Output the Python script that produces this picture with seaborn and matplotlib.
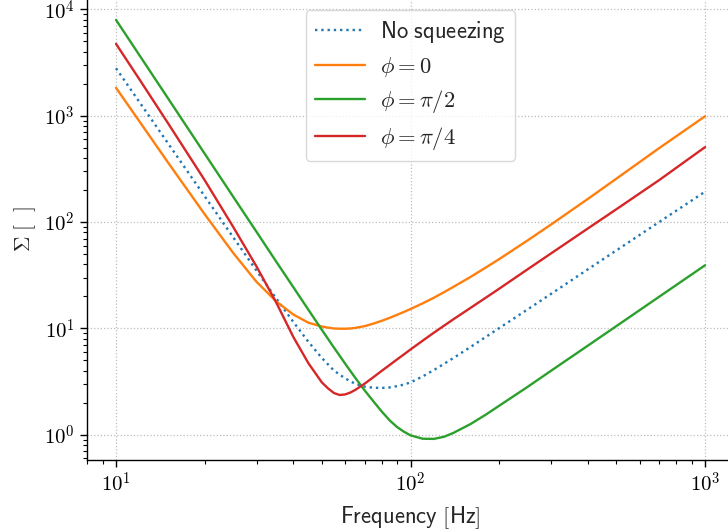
import matplotlib
matplotlib.use("Agg")
import matplotlib.pyplot as plt
from matplotlib.ticker import FuncFormatter, LogLocator
import numpy as np
import pandas as pd
import seaborn as sns

# Frequency grid [Hz] and the noise ratio Sigma for each homodyne angle
freq = [10, 12, 15, 20, 25, 30, 35, 40, 45, 50, 52.5, 55, 57.5, 60, 62.5,
        65, 70, 75, 80, 85, 90, 95, 100, 110, 120, 130, 140, 160, 180, 200,
        250, 300, 400, 500, 700, 1000]

no_squeezing = [2800, 1350, 553, 175, 71.9, 34.9, 19.1, 11.5, 7.47, 5.26,
                4.57, 4.0, 3.67, 3.38, 3.18, 3.0, 2.83, 2.76, 2.75, 2.78,
                2.86, 2.96, 3.1, 3.53, 4.05, 4.64, 5.27, 6.69, 8.29, 10.05,
                15.1, 21.1, 35.9, 54.1, 100.5, 193]
phi_0 = [1833, 888, 365, 118.5, 51.2, 27.4, 17.9, 13.5, 11.3, 10.4, 10.15,
         9.97, 9.92, 9.92, 9.98, 10.1, 10.5, 11.1, 11.8, 12.56, 13.4, 14.27,
         15.2, 17.2, 19.4, 21.9, 24.6, 30.5, 37.3, 44.8, 67.3, 94.8, 165,
         256, 498, 988]
phi_pi2 = [7980, 3724, 1466, 440, 173, 80.9, 42.4, 24.4, 14.96, 9.68, 7.94,
           6.57, 5.51, 4.65, 3.97, 3.41, 2.59, 2.04, 1.64, 1.36, 1.18, 1.065,
           0.985, 0.915, 0.912, 0.955, 1.04, 1.26, 1.54, 1.87, 2.82, 3.99,
           6.87, 10.5, 19.9, 39.2]
phi_pi4 = [4750, 2208, 855, 248, 90, 38.2, 17.5, 8.3, 4.7, 3.1, 2.72, 2.46,
           2.36, 2.39, 2.49, 2.64, 3.03, 3.49, 4.0, 4.53, 5.1, 5.69, 6.33,
           7.66, 9.1, 10.6, 12.2, 15.6, 19.4, 23.6, 36.0, 50.7, 87.0, 132,
           249, 507]

labels = ["No squeezing", r"$\phi = 0$", r"$\phi = \pi/2$", r"$\phi = \pi/4$"]
series = [no_squeezing, phi_0, phi_pi2, phi_pi4]
colors = ["#1f77b4", "#ff7f0e", "#2ca02c", "#d62728"]
styles = [":", "-", "-", "-"]

sns.set_theme(style="ticks")
plt.rcParams["mathtext.fontset"] = "cm"
plt.rcParams["font.family"] = ["DejaVu Sans"]
plt.rcParams["xtick.direction"] = "out"
plt.rcParams["ytick.direction"] = "out"

fig = plt.figure(figsize=(7.28, 5.31), dpi=100)
ax = fig.add_axes([0.1189, 0.134, 0.890, 0.868])

for vals, lab, col, ls in zip(series, labels, colors, styles):
    df = pd.DataFrame({"f": freq, "sigma": vals})
    sns.lineplot(data=df, x="f", y="sigma", ax=ax, color=col, linestyle=ls,
                 linewidth=1.7, label=lab)

ax.set_xscale("log")
ax.set_yscale("log")
decade = FuncFormatter(lambda v, p: r"$10^{%d}$" % int(round(np.log10(v))))
ax.xaxis.set_major_formatter(decade)
ax.yaxis.set_major_formatter(decade)
ax.xaxis.set_minor_locator(LogLocator(base=10, subs=np.arange(2, 10)))
ax.yaxis.set_minor_locator(LogLocator(base=10, subs=np.arange(2, 10)))
ax.xaxis.set_minor_formatter(FuncFormatter(lambda v, p: ""))
ax.yaxis.set_minor_formatter(FuncFormatter(lambda v, p: ""))

ax.grid(True, which="major", linestyle=":", color="#bdbdbd", linewidth=0.9)
sns.despine(ax=ax)

ax.tick_params(axis="both", which="major", length=5, width=1.0,
               colors="black", labelsize=15)
ax.tick_params(axis="both", which="minor", length=2.8, width=0.8,
               colors="black")
for sp in ("left", "bottom"):
    ax.spines[sp].set_color("black")
    ax.spines[sp].set_linewidth(1.0)

ax.set_xlabel(r"$\mathsf{Frequency\ [Hz]}$", fontsize=16.3, labelpad=6)
ax.set_ylabel(r"$\Sigma\ [\ \ ]$", fontsize=15.5, labelpad=4)

leg = ax.legend(loc="upper center", fontsize=16.3, frameon=True,
                handlelength=2.2, handletextpad=0.7, borderpad=0.4,
                labelspacing=0.42)
leg.get_frame().set_edgecolor("#d0d0d0")
leg.get_frame().set_linewidth(1.0)
for t in leg.get_texts():
    if t.get_text() == "No squeezing":
        t.set_text(r"$\mathsf{No\ squeezing}$")

fig.savefig("out.png", dpi=100)
